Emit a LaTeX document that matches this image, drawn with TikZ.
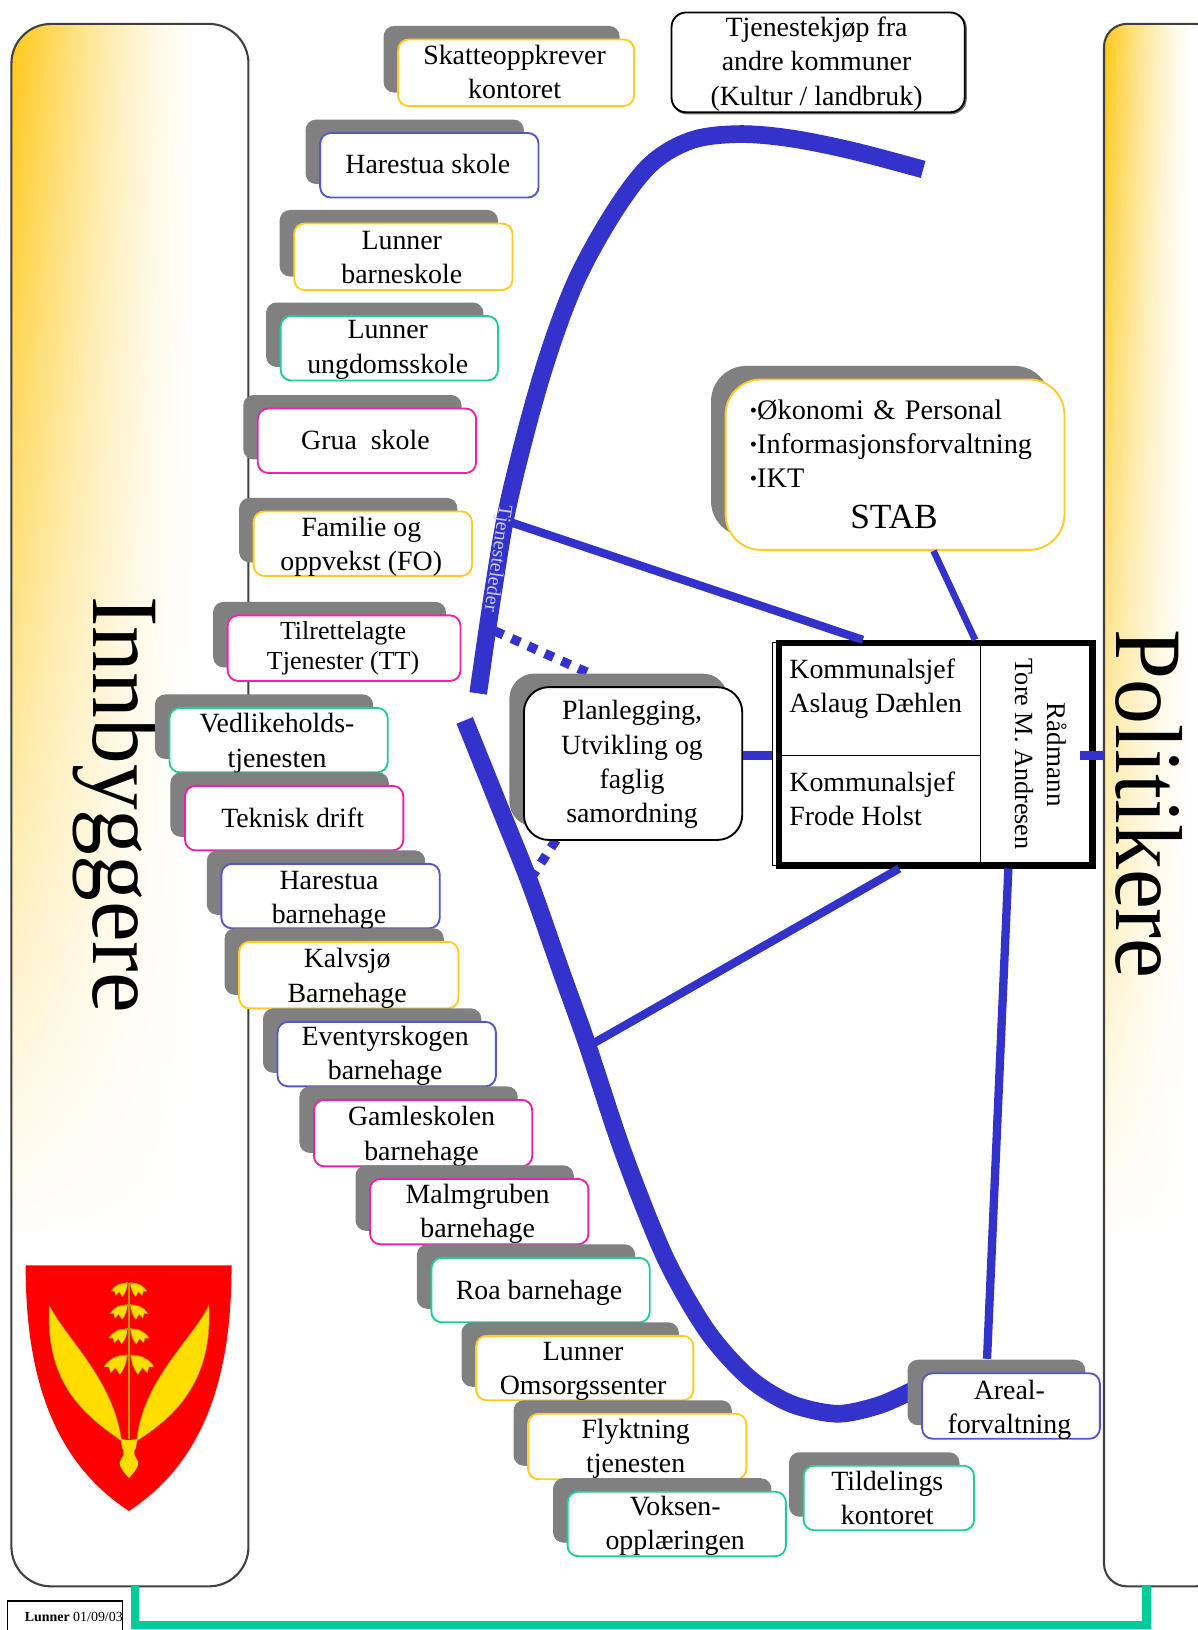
\documentclass[tikz,border=0pt]{standalone}
\usepackage{fontspec}
\setmainfont{Liberation Serif}
\usetikzlibrary{calc}
\definecolor{cy}{HTML}{FFCC22}
\definecolor{cb}{HTML}{5555CC}
\definecolor{ct}{HTML}{22CC99}
\definecolor{cm}{HTML}{EE22AA}
\definecolor{cs}{HTML}{808080}
\definecolor{lineblue}{HTML}{3333CC}
\definecolor{cgreen}{HTML}{00CC99}
\definecolor{shieldred}{HTML}{FF0000}
\definecolor{shieldyel}{HTML}{FFDD00}
\definecolor{shieldbrn}{HTML}{C89000}
\pgfdeclarefunctionalshading{panelshade}{\pgfpoint{0bp}{0bp}}{\pgfpoint{100bp}{100bp}}{}{
  25 sub 50 div 0.22 sub 0.78 div dup 0 lt {pop 0} if
  exch 25 sub 50 div 0.8 exch sub 0.8 div dup 0 lt {pop 0} if
  dup sqrt mul
  mul
  dup 0.22 mul 1 exch sub exch 0.92 mul 1 exch sub
  1 3 1 roll
}
\newcommand{\txt}{\fontsize{13.4}{16.5}\selectfont}
\newcommand{\bul}{\raisebox{1.2pt}{\fontsize{10}{10}\selectfont •}}
\tikzset{
  x=0.5pt,y=-0.5pt,
  panelbox/.style={shading=panelshade,draw=black!75,line width=1pt,rounded corners=19pt},
  thickline/.style={draw=lineblue,line width=8.5pt,line cap=butt},
  midline/.style={draw=lineblue,line width=4pt,line cap=butt},
  dotline/.style={draw=lineblue,line width=4.5pt,dash pattern=on 4.5pt off 4.3pt},
  unit/.style={rounded corners=5pt,fill=white,line width=0.9pt,inner sep=0pt},
  boxtext/.style={inner sep=0pt,align=center,font=\txt},
  shadowbox/.style={fill=cs,rounded corners=5pt},
  plain/.style={inner sep=0pt,font=\txt,align=left},
}
% name, x1,y1,x2,y2, colour, text, text shift
\newcommand{\bx}[8]{%
  \fill[shadowbox] (#2-14,#3-13) rectangle (#4-14,#5-13);
  \node[unit,draw=#6,minimum width={(#4-#2)*0.5pt},minimum height={(#5-#3)*0.5pt}] (#1) at ({(#2+#4)/2},{(#3+#5)/2}) {};
  \node[boxtext] (#1-t) at ($(#1)+(-1.5,#8)$) {#7};
}
\newcommand{\bell}[3]{% x-dir, y, size
  \begin{scope}[shift={(387,#2)},xscale=#1*#3,yscale=#3]
    \fill[shieldyel,draw=shieldbrn,line width=0.2pt] (5,-20) .. controls (25,-26) and (50,-12) .. (60,6) -- (48,6) -- (44,20) -- (32,8) -- (22,24) .. controls (10,10) and (6,-5) .. (5,-20) -- cycle;
    \draw[shieldbrn,line width=0.6pt] (0,-14) .. controls (2,-24) and (8,-24) .. (12,-21);
  \end{scope}
}
\begin{document}
\begin{tikzpicture}
\useasboundingbox (0,0) rectangle (1152,1568);
% panels
\path[panelbox] (11,23) rectangle (239,1526);
\path[panelbox,rounded corners=11pt] (1062,23) rectangle (1172,1526);
\node[rotate=-90,inner sep=0pt,font=\fontsize{44}{50}\selectfont] (innb) at (112,774) {\scalebox{1}[1.04]{Innbyggere}};
\node[rotate=-90,inner sep=0pt,font=\fontsize{43.2}{50}\selectfont] (polit) at (1105,773.5) {\scalebox{1}[1.06]{Politikere}};
% green connector
\coordinate (gl) at (130,1526);
\coordinate (gr) at (1103,1526);
\draw[cgreen,line width=4pt] (gl) -- ++(0,37) -| (gr);
% small label
\node[draw=black,line width=0.7pt,fill=white,minimum width=55.5pt,minimum height=18pt,inner sep=0pt] (stamp) at (62.5,1558) {};
\node[inner sep=0pt,font=\fontsize{6.7}{7}\selectfont] (stamptxt) at (71,1555) {\textbf{Lunner} 01/09/03};
% shield
\begin{scope}[shift={(0,1153.85)},scale=0.3205]
  \fill[shieldred] (77,198) -- (695,198) .. controls (695,480) and (640,770) .. (387,935) .. controls (134,770) and (77,480) .. (77,198) -- cycle;
  \fill[shieldyel,draw=shieldbrn,line width=0.2pt] (148,318) .. controls (200,420) and (340,540) .. (365,725) .. controls (260,650) and (135,560) .. (148,318) -- cycle;
  \fill[shieldyel,draw=shieldbrn,line width=0.2pt] (627,318) .. controls (570,430) and (430,540) .. (410,725) .. controls (510,660) and (640,560) .. (627,318) -- cycle;
  \fill[shieldyel] (362,718) -- (380,722) -- (394,722) -- (412,718) -- (408,745) .. controls (400,755) and (402,768) .. (410,778) .. controls (420,790) and (416,805) .. (387,836) .. controls (358,805) and (354,790) .. (364,778) .. controls (372,768) and (374,755) .. (366,745) -- cycle;
  \draw[shieldbrn,line width=1pt] (387,252) -- (387,720);
  \bell{1}{270}{0.9}
  \bell{-1}{270}{0.9}
  \bell{1}{337}{0.95}
  \bell{-1}{337}{0.95}
  \bell{1}{410}{1}
  \bell{-1}{410}{1}
  \bell{1}{495}{1.25}
  \bell{-1}{495}{1.25}
\end{scope}
% curves
\coordinate (ua) at (888,163);
\coordinate (ub) at (460,667);
\coordinate (la) at (447,693);
\coordinate (lb) at (877,1338);
\draw[thickline] plot[smooth,tension=.55] coordinates {(ua) (820,145) (760,133) (710,129) (665,135) (626,158) (590,205) (552,275) (520,365) (490,480) (475,565) (ub)};
\draw[thickline] plot[smooth,tension=.5] coordinates {(la) (480,775) (510,850) (540,935) (565,1005) (600,1110) (640,1210) (680,1280) (720,1325) (760,1350) (805,1360) (845,1352) (lb)};
\node[rotate=-98,inner sep=0pt,text=white!75!lineblue,font=\fontsize{9.6}{11}\selectfont] (tjl) at (478,537) {Tjenesteleder};
% dotted
\coordinate (da) at (476,607);
\coordinate (db) at (572,650);
\coordinate (dc) at (535,808);
\coordinate (dd) at (510,846);
\draw[dotline] (da) -- (db);
\draw[dotline] (dc) -- (dd);
% block
\node[draw=black,line width=0.5pt,minimum width=153.5pt,minimum height=107.5pt,inner sep=0pt] (blockb) at (896.5,725.5) {};
\node[draw=black,line width=3pt,minimum width=151pt,minimum height=107pt,inner sep=0pt] (block) at (900,725.5) {};
\coordinate (v1) at (943,618);
\coordinate (v2) at (943,833);
\coordinate (h1) at (748,727);
\coordinate (h2) at (943,727);
\draw[line width=0.7pt] (v1) -- (v2);
\draw[line width=0.7pt] (h1) -- (h2);
\node[plain,anchor=west] (aslaug) at (759,662.5) {Kommunalsjef\\Aslaug Dæhlen};
\node[plain,anchor=west] (frode) at (759,768.5) {Kommunalsjef\\Frode Holst};
\node[rotate=-90,inner sep=0pt,font=\fontsize{13}{15}\selectfont] (radm) at (1017,726) {Rådmann};
\node[rotate=-90,inner sep=0pt,font=\fontsize{12.6}{14}\selectfont] (tore) at (985,725.5) {Tore M. Andresen};
% boxes
\bx{skatt}{383}{38}{610}{102}{cy}{Skatteoppkrever\\kontoret}{-1}
\bx{hskole}{308}{128}{518}{190}{cb}{Harestua skole}{-1}
\bx{lbarn}{283}{215}{493}{279}{cy}{Lunner\\barneskole}{0.5}
\bx{lungd}{270}{304}{479}{366}{ct}{Lunner\\ungdomsskole}{1.5}
\bx{grua}{248}{393}{458}{455}{cm}{Grua\ \ skole}{-1}
\bx{fo}{244}{492}{454}{554}{cy}{Familie og\\oppvekst (FO)}{3}
\bx{tt}{219}{592}{443}{655}{cm}{}{0}
\node[inner sep=0pt,align=center,font=\fontsize{12.5}{14.5}\selectfont] (tttxt) at ($(tt)+(-1,0)$) {Tilrettelagte\\Tjenester (TT)};
\bx{vedl}{163}{681}{373}{743}{ct}{Vedlikeholds-\\tjenesten}{3}
\bx{tekn}{178}{756}{388}{818}{cm}{Teknisk drift}{0}
\bx{hbarn}{213}{831}{423}{893}{cb}{Harestua\\barnehage}{4}
\bx{kalv}{230}{906}{441}{970}{cy}{Kalvsjø\\Barnehage}{3}
\bx{even}{267}{983}{477}{1045}{cb}{Eventyrskogen\\barnehage}{2}
\bx{gaml}{302}{1058}{512}{1122}{cm}{Gamleskolen\\barnehage}{3}
\bx{malm}{356}{1134}{566}{1197}{cm}{Malmgruben\\barnehage}{2}
\bx{roa}{415}{1210}{625}{1272}{ct}{Roa barnehage}{3}
\bx{omso}{458}{1285}{667}{1347}{cy}{Lunner\\Omsorgssenter}{3}
\bx{flyk}{508}{1360}{718}{1423}{cy}{Flyktning\\tjenesten}{2}
\bx{voks}{546}{1435}{756}{1497}{ct}{Voksen-\\opplæringen}{2}
\bx{tild}{773}{1410}{937}{1472}{ct}{Tildelings\\kontoret}{0}
\bx{areal}{887}{1321}{1058}{1384}{cb}{Areal-\\forvaltning}{4}
% Planlegging
\fill[cs,rounded corners=12pt] (490,648) rectangle (700,795);
\node[unit,rounded corners=12pt,draw=black,minimum width=105pt,minimum height=73.5pt] (plan) at (609,734.5) {};
\node[boxtext] (plant) at ($(plan)+(-1,1)$) {Planlegging,\\Utvikling og\\faglig\\samordning};
% STAB
\fill[cs,rounded corners=17pt] (684,352) rectangle (1010,516);
\node[unit,rounded corners=17pt,draw=cy,minimum width=163pt,minimum height=82pt] (stab) at (861,447) {};
\node[plain,anchor=west,text width=150pt,font=\fontsize{13.6}{16.3}\selectfont] (stabt) at (721,427) {\bul Økonomi \& Personal\\\bul Informasjonsforvaltning\\\bul IKT};
\node[inner sep=0pt,font=\fontsize{17}{20}\selectfont] (stabl) at (860,497) {STAB};
% Tjenestekjop
\node[rounded corners=7pt,draw=black!55,line width=1pt,minimum width=141pt,minimum height=48pt,inner sep=0pt] (tjs) at (788,61) {};
\node[unit,rounded corners=7pt,draw=black,minimum width=141pt,minimum height=48pt] (tjk) at (787,60) {};
\node[boxtext] (tjkt) at ($(tjk)+(-1.5,1.5)$) {Tjenestekjøp fra\\andre kommuner\\(Kultur / landbruk)};
% connectors to block
\coordinate (j1) at (493,503);
\coordinate (j2) at (565,1007);
\draw[midline] (j1) -- ($(block.north)+(-70,0)$);
\draw[midline] (j2) -- ($(block.south)+(-35,0)$);
\draw[midline,line width=3.2pt] ($(stab.south)+(37,0)$) -- ($(block.north)+(38,0)$);
\draw[midline] ($(block.south)+(70,0)$) -- ($(areal.north)+(-23,-13)$);
\draw[midline,line width=4.5pt] (plan.east |- h1) -- (blockb.west |- h1);
\draw[midline,line width=4.5pt] ($(block.east |- h1)+(-15,0)$) -- (1062,727);
\end{tikzpicture}
\end{document}
